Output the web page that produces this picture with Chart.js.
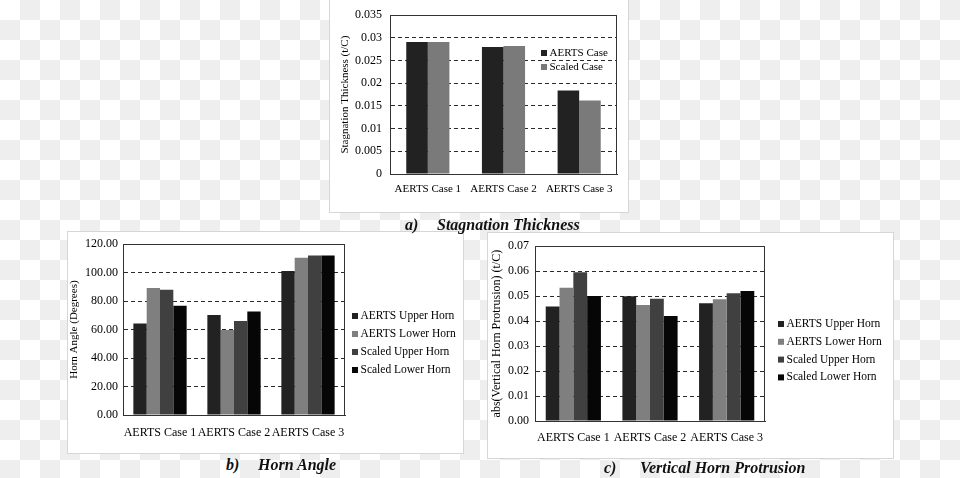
<!DOCTYPE html>
<html>
<head>
<meta charset="utf-8">
<script src="https://cdn.jsdelivr.net/npm/chart.js@4.4.0/dist/chart.umd.min.js"></script>
<style>
body{margin:0;width:960px;height:478px;position:relative;overflow:hidden;
  background:repeating-conic-gradient(#eeeeee 0 25%, #ffffff 0 50%) 0 0/40px 40px;}
.panel{position:absolute;background:#fff;box-shadow:0 0 0 1px #d6d6d6}
.panel canvas{position:absolute;left:0;top:0}
.cap{position:absolute;font:bold italic 16px "Liberation Serif",serif;color:#111;white-space:pre;line-height:16px}
</style>
</head>
<body>
<div class="panel" style="left:330px;top:0;width:298px;height:212px"><canvas id="chartA" width="298" height="212"></canvas></div>
<div class="panel" style="left:68px;top:232px;width:395px;height:221px"><canvas id="chartB" width="395" height="221"></canvas></div>
<div class="panel" style="left:488px;top:233px;width:405px;height:225px"><canvas id="chartC" width="405" height="225"></canvas></div>

<div class="cap" style="left:405px;top:217px">a)</div>
<div class="cap" style="left:437px;top:217px">Stagnation Thickness</div>
<div class="cap" style="left:226px;top:457px">b)</div>
<div class="cap" style="left:258px;top:457px">Horn Angle</div>
<div class="cap" style="left:604px;top:460px">c)</div>
<div class="cap" style="left:640px;top:460px">Vertical Horn Protrusion</div>

<script>
// ---- data ----
const caseLabels = ["AERTS Case 1", "AERTS Case 2", "AERTS Case 3"];

// a) stagnation thickness (t/C)
const thickAerts  = [0.0291, 0.0280, 0.0184];
const thickScaled = [0.0291, 0.0282, 0.0162];

// b) horn angle (degrees)
const angleAertsUpper  = [64.2, 70.2, 101.2];
const angleAertsLower  = [89.2, 59.8, 110.4];
const angleScaledUpper = [88.0, 66.0, 112.0];
const angleScaledLower = [76.8, 72.8, 112.0];

// c) abs(vertical horn protrusion) (t/C)
const protAertsUpper  = [0.0459, 0.0500, 0.0472];
const protAertsLower  = [0.0534, 0.0465, 0.0488];
const protScaledUpper = [0.0596, 0.0490, 0.0512];
const protScaledLower = [0.0501, 0.0420, 0.0521];

const legendTwo  = ["AERTS Case", "Scaled Case"];
const legendFour = ["AERTS Upper Horn", "AERTS Lower Horn", "Scaled Upper Horn", "Scaled Lower Horn"];

Chart.defaults.font.family = '"Liberation Serif", "Times New Roman", serif';
Chart.defaults.color = "#000";

// plot frame + legend drawn by hand so it can sit where the original has it
const framePlugin = {
  id: "frame",
  afterDraw(chart, args, o){
    const ctx = chart.ctx, a = chart.chartArea;
    ctx.save();
    ctx.strokeStyle = "#333";
    ctx.lineWidth = 1;
    ctx.strokeRect(Math.round(a.left) + 0.5, Math.round(a.top) + 0.5,
      Math.round(a.right - a.left) - 1, Math.round(a.bottom - a.top));
    // legend
    ctx.font = o.size + 'px "Liberation Serif", serif';
    ctx.textBaseline = "middle";
    chart.data.datasets.forEach((ds, i)=>{
      const y = o.y + i * o.gap;
      ctx.fillStyle = ds.backgroundColor;
      ctx.fillRect(o.x, y - 3, 6, 6);
      ctx.fillStyle = "#000";
      ctx.fillText(ds.label, o.x + 8.5, y);
    });
    ctx.restore();
  }
};

function makeChart(id, sets, cfg){
  return new Chart(document.getElementById(id), {
    type: "bar",
    data: {
      labels: caseLabels,
      datasets: sets.map(s => ({ label: s[0], data: s[1], backgroundColor: s[2], borderWidth: 0,
        categoryPercentage: cfg.catPct, barPercentage: 1 }))
    },
    options: {
      responsive: false,
      animation: false,
      events: [],
      layout: { padding: { left: 0, top: cfg.top, right: cfg.right, bottom: 0 } },
      plugins: { legend: { display: false }, tooltip: { enabled: false },
        frame: cfg.legend },
      scales: {
        x: {
          grid: { display: false, drawTicks: false },
          border: { color: "#333" },
          ticks: { font: { size: cfg.xSize }, padding: cfg.xPad, maxRotation: 0, autoSkip: false, color: "#000" },
          afterFit: s => { s.height = cfg.xH; }
        },
        y: {
          min: 0, max: cfg.max,
          ticks: { stepSize: cfg.step, font: { size: cfg.ySize }, padding: cfg.yPad, color: "#000",
            callback: cfg.fmt },
          grid: { color: "#2a2a2a", lineWidth: 1, drawTicks: false },
          border: { color: "#333", dash: [4, 3] },
          title: { display: true, text: cfg.title, font: { size: cfg.titleSize }, color: "#000",
            padding: { top: cfg.titlePad, bottom: 0 } },
          afterFit: s => { s.width = cfg.yW; }
        }
      }
    },
    plugins: [framePlugin]
  });
}

makeChart("chartA", [
  [legendTwo[0], thickAerts, "#222222"],
  [legendTwo[1], thickScaled, "#7a7a7a"]
], { catPct: 0.57, top: 13, right: 11, xH: 38, yW: 60, max: 0.035, step: 0.005,
  fmt: v => String(+v.toFixed(3)), xSize: 11, ySize: 12, xPad: 9, yPad: 8,
  title: "Stagnation Thickness (t/C)", titleSize: 11, titlePad: 9,
  legend: { x: 211, y: 53, gap: 14, size: 11 } });

makeChart("chartB", [
  [legendFour[0], angleAertsUpper, "#222222"],
  [legendFour[1], angleAertsLower, "#7f7f7f"],
  [legendFour[2], angleScaledUpper, "#404040"],
  [legendFour[3], angleScaledLower, "#060606"]
], { catPct: 0.72, top: 11, right: 118, xH: 38, yW: 55, max: 120, step: 20,
  fmt: v => v.toFixed(2), xSize: 12, ySize: 12, xPad: 11, yPad: 5,
  title: "Horn Angle (Degrees)", titleSize: 11, titlePad: 0,
  legend: { x: 284, y: 84, gap: 18, size: 11.5 } });

makeChart("chartC", [
  [legendFour[0], protAertsUpper, "#222222"],
  [legendFour[1], protAertsLower, "#7f7f7f"],
  [legendFour[2], protScaledUpper, "#404040"],
  [legendFour[3], protScaledLower, "#060606"]
], { catPct: 0.72, top: 11, right: 128, xH: 37, yW: 47, max: 0.07, step: 0.01,
  fmt: v => v.toFixed(2), xSize: 12, ySize: 12, xPad: 10, yPad: 6,
  title: "abs(Vertical Horn Protrusion) (t/C)", titleSize: 12, titlePad: 2,
  legend: { x: 290, y: 91, gap: 17.8, size: 11.5 } });
</script>
</body>
</html>
